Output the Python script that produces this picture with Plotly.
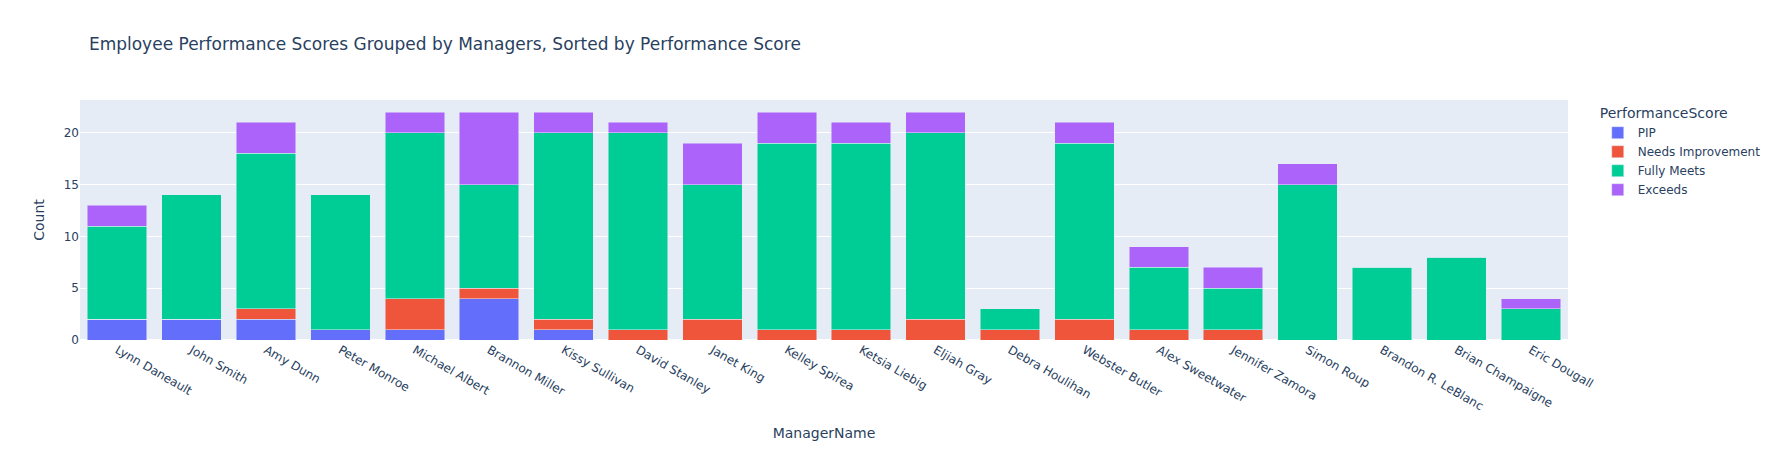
import plotly.graph_objects as go

managers = ["Lynn Daneault", "John Smith", "Amy Dunn", "Peter Monroe", "Michael Albert",
            "Brannon Miller", "Kissy Sullivan", "David Stanley", "Janet King", "Kelley Spirea",
            "Ketsia Liebig", "Eljiah Gray", "Debra Houlihan", "Webster Butler", "Alex Sweetwater",
            "Jennifer Zamora", "Simon Roup", "Brandon R. LeBlanc", "Brian Champaigne", "Eric Dougall"]

pip = [2, 2, 2, 1, 1, 4, 1, 0, 0, 0, 0, 0, 0, 0, 0, 0, 0, 0, 0, 0]
needs_improvement = [0, 0, 1, 0, 3, 1, 1, 1, 2, 1, 1, 2, 1, 2, 1, 1, 0, 0, 0, 0]
fully_meets = [9, 12, 15, 13, 16, 10, 18, 19, 13, 18, 18, 18, 2, 17, 6, 4, 15, 7, 8, 3]
exceeds = [2, 0, 3, 0, 2, 7, 2, 1, 4, 3, 2, 2, 0, 2, 2, 2, 2, 0, 0, 1]

series = [("PIP", pip, "#636efa"),
          ("Needs Improvement", needs_improvement, "#EF553B"),
          ("Fully Meets", fully_meets, "#00cc96"),
          ("Exceeds", exceeds, "#ab63fa")]

fig = go.Figure()
for name, vals, color in series:
    fig.add_trace(go.Bar(x=managers, y=vals, name=name, marker_color=color,
                         legendgroup=name))

fig.update_layout(
    barmode="stack",
    template="plotly",
    font=dict(family="DejaVu Sans", color="#2a3f5f"),
    title=dict(text="Employee Performance Scores Grouped by Managers, Sorted by Performance Score"),
    xaxis=dict(title=dict(text="ManagerName"), tickangle=30),
    yaxis=dict(title=dict(text="Count")),
    legend=dict(title=dict(text="PerformanceScore"), tracegroupgap=0),
    width=1778, height=450,
)

fig.write_html("out.html",
               config={"displayModeBar": False},
               post_script="document.body.style.margin='0';document.body.style.overflow='hidden';")
